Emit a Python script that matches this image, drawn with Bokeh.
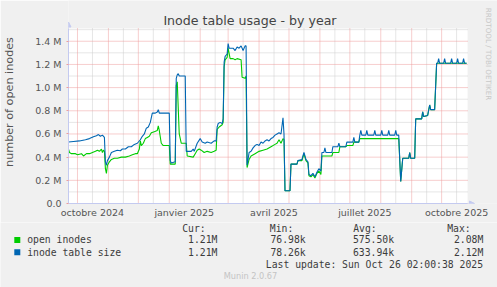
import math
import pandas as pd
from bokeh.plotting import figure
from bokeh.models import Range1d, FixedTicker, Label, Arrow, NormalHead
from bokeh.layouts import column
from bokeh.core.properties import value
from bokeh.embed import file_html
from bokeh.resources import INLINE

# ---------------- data ----------------
period_start = "2024-09-22"
period_end = "2025-10-27"

open_dates = [
    "2024-09-22", "2024-09-23", "2024-09-25", "2024-09-29", "2024-10-01", "2024-10-05", "2024-10-07",
    "2024-10-10", "2024-10-13", "2024-10-16", "2024-10-19", "2024-10-21", "2024-10-23", "2024-10-25",
    "2024-10-26", "2024-10-27", "2024-10-28", "2024-10-29", "2024-10-30", "2024-10-31", "2024-11-02",
    "2024-11-04", "2024-11-07", "2024-11-10", "2024-11-14", "2024-11-18", "2024-11-22", "2024-11-25",
    "2024-11-28", "2024-11-30", "2024-12-02", "2024-12-03", "2024-12-04", "2024-12-06", "2024-12-08",
    "2024-12-10", "2024-12-12", "2024-12-14", "2024-12-17", "2024-12-20", "2024-12-21", "2024-12-22",
    "2024-12-24", "2024-12-26", "2025-01-01", "2025-01-02", "2025-01-07", "2025-01-08", "2025-01-09",
    "2025-01-11", "2025-01-13", "2025-01-18", "2025-01-19", "2025-01-25", "2025-01-27", "2025-01-29",
    "2025-01-31", "2025-02-02", "2025-02-05", "2025-02-08", "2025-02-12", "2025-02-15", "2025-02-17",
    "2025-02-18", "2025-02-20", "2025-02-23", "2025-02-24", "2025-02-25", "2025-02-26", "2025-02-28",
    "2025-03-01", "2025-03-03", "2025-03-06", "2025-03-08", "2025-03-10", "2025-03-14", "2025-03-15",
    "2025-03-18", "2025-03-19", "2025-03-20", "2025-03-22", "2025-03-24", "2025-03-28", "2025-04-01",
    "2025-04-05", "2025-04-09", "2025-04-13", "2025-04-17", "2025-04-19", "2025-04-21", "2025-04-23",
    "2025-04-25", "2025-04-26", "2025-04-27", "2025-05-02", "2025-05-03", "2025-05-09", "2025-05-10",
    "2025-05-14", "2025-05-16", "2025-05-18", "2025-05-20", "2025-05-21", "2025-05-23", "2025-05-25",
    "2025-05-27", "2025-05-29", "2025-05-31", "2025-06-02", "2025-06-03", "2025-06-13", "2025-06-14",
    "2025-06-20", "2025-06-21", "2025-06-27", "2025-06-28", "2025-07-04", "2025-07-05", "2025-07-10",
    "2025-07-11", "2025-08-19", "2025-08-21", "2025-08-23", "2025-08-29", "2025-08-30", "2025-08-31",
    "2025-09-04", "2025-09-05", "2025-09-11", "2025-09-12", "2025-09-13", "2025-09-17", "2025-09-19",
    "2025-09-20", "2025-09-24", "2025-09-26", "2025-10-26",
]
open_values = [  # millions
    0.47, 0.44, 0.43, 0.43, 0.42, 0.43, 0.41,
    0.43, 0.43, 0.44, 0.45, 0.46, 0.45, 0.47,
    0.44, 0.46, 0.45, 0.30, 0.26, 0.33, 0.36,
    0.38, 0.39, 0.39, 0.40, 0.40, 0.41, 0.42,
    0.43, 0.43, 0.47, 0.54, 0.50, 0.52, 0.56,
    0.57, 0.58, 0.61, 0.62, 0.63, 0.67, 0.63,
    0.52, 0.50, 0.50, 0.34, 0.34, 1.02, 1.05,
    0.60, 0.52, 0.52, 0.41, 0.40, 0.43, 0.46,
    0.47, 0.46, 0.44, 0.45, 0.44, 0.45, 0.46,
    0.64, 0.66, 0.68, 0.70, 1.18, 1.24, 1.26,
    1.34, 1.25, 1.25, 1.24, 1.25, 1.24, 1.09,
    1.08, 1.10, 0.31, 0.38, 0.41, 0.43, 0.45,
    0.46, 0.47, 0.49, 0.51, 0.52, 0.55, 0.52,
    0.56, 0.55, 0.11, 0.11, 0.34, 0.34, 0.37,
    0.37, 0.43, 0.37, 0.35, 0.24, 0.23, 0.25,
    0.22, 0.26, 0.28, 0.25, 0.41, 0.41, 0.44,
    0.44, 0.49, 0.49, 0.50, 0.50, 0.53, 0.53,
    0.56, 0.56, 0.19, 0.39, 0.39, 0.44, 0.39,
    0.39, 0.73, 0.73, 0.79, 0.75, 0.76, 0.85,
    0.81, 0.81, 1.21, 1.21,
]

size_dates = [
    "2024-09-22", "2024-09-27", "2024-10-03", "2024-10-09", "2024-10-13", "2024-10-17", "2024-10-20",
    "2024-10-22", "2024-10-24", "2024-10-26", "2024-10-28", "2024-10-29", "2024-10-30", "2024-10-31",
    "2024-11-02", "2024-11-04", "2024-11-07", "2024-11-10", "2024-11-13", "2024-11-15", "2024-11-18",
    "2024-11-21", "2024-11-24", "2024-11-27", "2024-11-30", "2024-12-03", "2024-12-05", "2024-12-07",
    "2024-12-09", "2024-12-11", "2024-12-13", "2024-12-15", "2024-12-18", "2024-12-20", "2024-12-21",
    "2024-12-22", "2025-01-01", "2025-01-02", "2025-01-03", "2025-01-07", "2025-01-08", "2025-01-09",
    "2025-01-10", "2025-01-11", "2025-01-17", "2025-01-18", "2025-01-23", "2025-01-25", "2025-01-26",
    "2025-01-29", "2025-02-01", "2025-02-03", "2025-02-06", "2025-02-08", "2025-02-12", "2025-02-15",
    "2025-02-17", "2025-02-18", "2025-02-19", "2025-02-21", "2025-02-23", "2025-02-24", "2025-02-25",
    "2025-02-26", "2025-02-28", "2025-03-01", "2025-03-02", "2025-03-06", "2025-03-08", "2025-03-10",
    "2025-03-12", "2025-03-14", "2025-03-16", "2025-03-18", "2025-03-19", "2025-03-20", "2025-03-21",
    "2025-03-22", "2025-03-24", "2025-03-26", "2025-03-28", "2025-03-30", "2025-04-01", "2025-04-03",
    "2025-04-05", "2025-04-07", "2025-04-09", "2025-04-11", "2025-04-13", "2025-04-15", "2025-04-17",
    "2025-04-19", "2025-04-21", "2025-04-23", "2025-04-25", "2025-04-26", "2025-04-27", "2025-05-02",
    "2025-05-03", "2025-05-09", "2025-05-10", "2025-05-14", "2025-05-16", "2025-05-18", "2025-05-20",
    "2025-05-21", "2025-05-23", "2025-05-25", "2025-05-27", "2025-05-29", "2025-05-31", "2025-06-02",
    "2025-06-03", "2025-06-05", "2025-06-06", "2025-06-07", "2025-06-13", "2025-06-14", "2025-06-19",
    "2025-06-20", "2025-06-21", "2025-06-27", "2025-06-28", "2025-07-04", "2025-07-05", "2025-07-06",
    "2025-07-10", "2025-07-11", "2025-07-12", "2025-07-13", "2025-07-17", "2025-07-18", "2025-07-19",
    "2025-07-25", "2025-07-26", "2025-07-27", "2025-08-01", "2025-08-02", "2025-08-03", "2025-08-08",
    "2025-08-09", "2025-08-10", "2025-08-15", "2025-08-16", "2025-08-17", "2025-08-19", "2025-08-21",
    "2025-08-23", "2025-08-29", "2025-08-30", "2025-08-31", "2025-09-04", "2025-09-05", "2025-09-11",
    "2025-09-12", "2025-09-13", "2025-09-17", "2025-09-19", "2025-09-20", "2025-09-24", "2025-09-26",
    "2025-09-27", "2025-09-28", "2025-09-29", "2025-10-03", "2025-10-04", "2025-10-05", "2025-10-10",
    "2025-10-11", "2025-10-12", "2025-10-16", "2025-10-17", "2025-10-18", "2025-10-22", "2025-10-23",
    "2025-10-24", "2025-10-26",
]
size_values = [  # millions
    0.53, 0.535, 0.54, 0.55, 0.56, 0.575, 0.585,
    0.595, 0.58, 0.59, 0.57, 0.36, 0.33, 0.37,
    0.40, 0.44, 0.45, 0.46, 0.455, 0.47, 0.47,
    0.49, 0.49, 0.51, 0.52, 0.55, 0.58, 0.60,
    0.65, 0.66, 0.70, 0.78, 0.78, 0.79, 0.81,
    0.78, 0.78, 0.37, 0.35, 0.36, 1.08, 1.11,
    1.12, 1.10, 1.10, 0.45, 0.45, 0.47, 0.45,
    0.52, 0.56, 0.53, 0.52, 0.53, 0.52, 0.54,
    0.54, 0.66, 0.69, 0.70, 0.69, 0.73, 1.22,
    1.27, 1.29, 1.38, 1.34, 1.34, 1.32, 1.35,
    1.34, 1.36, 1.32, 1.36, 1.36, 0.33, 0.38,
    0.44, 0.45, 0.48, 0.50, 0.51, 0.50, 0.53,
    0.52, 0.54, 0.55, 0.54, 0.56, 0.57, 0.59,
    0.60, 0.61, 0.60, 0.74, 0.60, 0.11, 0.11,
    0.34, 0.34, 0.37, 0.38, 0.44, 0.38, 0.36,
    0.25, 0.24, 0.26, 0.23, 0.27, 0.30, 0.28,
    0.44, 0.44, 0.48, 0.44, 0.44, 0.49, 0.49,
    0.52, 0.49, 0.49, 0.53, 0.53, 0.57, 0.53,
    0.53, 0.59, 0.63, 0.59, 0.59, 0.63, 0.59,
    0.59, 0.63, 0.59, 0.59, 0.63, 0.59, 0.59,
    0.63, 0.59, 0.59, 0.63, 0.59, 0.59, 0.19,
    0.39, 0.39, 0.44, 0.39, 0.39, 0.73, 0.73,
    0.79, 0.75, 0.76, 0.85, 0.81, 0.81, 1.21,
    1.21, 1.25, 1.21, 1.21, 1.25, 1.21, 1.21,
    1.25, 1.21, 1.21, 1.25, 1.21, 1.21, 1.25,
    1.21, 1.21,
]

y_top = 1.51  # top of the graph area, millions
y_ticks = [0.0, 0.2, 0.4, 0.6, 0.8, 1.0, 1.2, 1.4]
y_tick_labels = ["0.0", "0.2 M", "0.4 M", "0.6 M", "0.8 M", "1.0 M", "1.2 M", "1.4 M"]
y_minor = [0.1, 0.3, 0.5, 0.7, 0.9, 1.1, 1.3, 1.5]
x_label_dates = ["2024-10-16", "2025-01-16", "2025-04-16", "2025-07-16", "2025-10-16"]
x_labels = ["octobre 2024", "janvier 2025", "avril 2025", "juillet 2025", "octobre 2025"]

series_names = ["open inodes", "inode table size"]
series_colors = ["#00CC00", "#0066B3"]
cur_vals = ["1.21M", "1.21M"]
min_vals = ["76.98k", "78.26k"]
avg_vals = ["575.50k", "633.94k"]
max_vals = ["2.08M", "2.12M"]
last_update = "Last update: Sun Oct 26 02:00:38 2025"
munin_version = "Munin 2.0.67"

# ---------------- helpers ----------------
t0 = pd.Timestamp(period_start)


def to_days(dates):
    return [float((pd.Timestamp(d) - t0) / pd.Timedelta(days=1)) for d in dates]


span_days = to_days([period_end])[0]
months = pd.date_range(period_start, period_end, freq="MS")
month_starts = [d for d in to_days(months) if 0 < d < span_days]
mid_months = [d for d in to_days(months + pd.Timedelta(days=15)) if 0 < d < span_days]
x_ticks = to_days(x_label_dates)

BG = "#F0F0F0"
AXIS_C = "#C4CAF0"
MGRID = "#EE9C9C"
NGRID = "#CDCDCD"
TICK_C = "#555555"
FONT = "DejaVu Sans"

# geometry: graph area 400x175 px at (67, 28); frame extends to the right and top
TOP_H = 222
FRAME_L, FRAME_B, FRAME_R, FRAME_T = 67, 203, 497, 0
GRAPH_W, GRAPH_H = 400, 175
x_per_px = span_days / GRAPH_W
y_per_px = y_top / GRAPH_H


def px_x(px):
    return (px - FRAME_L) * x_per_px


def px_y(py):
    return (FRAME_B - py) * y_per_px


p = figure(width=497, height=TOP_H, output_backend="svg", toolbar_location=None,
           x_range=Range1d(0, px_x(FRAME_R)), y_range=Range1d(0, px_y(FRAME_T)),
           min_border_left=FRAME_L, min_border_right=0, min_border_top=0,
           min_border_bottom=TOP_H - FRAME_B)
p.frame_align = False
p.border_fill_color = BG
p.background_fill_color = BG
p.outline_line_color = None
p.grid.visible = False

# white graph area
p.quad(left=[0], right=[span_days], bottom=[0], top=[y_top], fill_color="white",
       line_color=None, level="image")

# grid lines (minor grey, major red, dotted)
p.segment(x0=[0] * len(y_minor), x1=[span_days] * len(y_minor), y0=y_minor, y1=y_minor,
          line_color=NGRID, line_dash="1 1", line_width=1, level="underlay")
p.segment(x0=mid_months, x1=mid_months, y0=[0] * len(mid_months), y1=[y_top] * len(mid_months),
          line_color=NGRID, line_dash="1 1", line_width=1, level="underlay")
p.segment(x0=[0] * len(y_ticks), x1=[span_days] * len(y_ticks), y0=y_ticks, y1=y_ticks,
          line_color=MGRID, line_dash="1 1", line_width=1, level="underlay")
p.segment(x0=month_starts, x1=month_starts, y0=[0] * len(month_starts),
          y1=[y_top] * len(month_starts),
          line_color=MGRID, line_dash="1 1", line_width=1, level="underlay")

# data
p.line(to_days(open_dates), open_values, line_color=series_colors[0], line_width=1.1)
p.line(to_days(size_dates), size_values, line_color=series_colors[1], line_width=1.1)

# axes
p.xaxis.bounds = (0, span_days)
p.yaxis.bounds = (0, y_top)
p.xaxis.ticker = FixedTicker(ticks=x_ticks)
p.xaxis.major_label_overrides = {t: l for t, l in zip(x_ticks, x_labels)}
p.xaxis.major_tick_line_color = None
p.xaxis.minor_tick_line_color = None
p.xaxis.major_tick_out = 0
p.xaxis.major_label_standoff = 3
p.yaxis.ticker = FixedTicker(ticks=y_ticks)
p.yaxis.major_label_overrides = {t: l for t, l in zip(y_ticks, y_tick_labels)}
p.yaxis.major_tick_line_color = MGRID
p.yaxis.major_tick_out = 2
p.yaxis.major_tick_in = 0
p.yaxis.minor_tick_line_color = None
p.yaxis.major_label_standoff = 5
p.yaxis.axis_label = "number of open inodes"
p.yaxis.axis_label_text_font = FONT
p.yaxis.axis_label_text_font_size = "11.2px"
p.yaxis.axis_label_text_font_style = "normal"
p.yaxis.axis_label_text_color = TICK_C
p.yaxis.axis_label_standoff = 16
for ax in (p.xaxis[0], p.yaxis[0]):
    ax.axis_line_color = AXIS_C
    ax.major_label_text_font = FONT
    ax.major_label_text_font_size = "9.5px"
    ax.major_label_text_color = TICK_C

# title and side text (inside the extended frame)
p.add_layout(Label(x=px_x(248.9), y=px_y(19.8), text="Inode table usage - by year",
                   text_align="center", text_baseline="middle", text_font=FONT,
                   text_font_size="12.6px", text_color="#444444"))
p.add_layout(Label(x=px_x(488), y=px_y(53.5), text="RRDTOOL / TOBI OETIKER",
                   angle=-math.pi / 2, text_align="center", text_baseline="middle",
                   text_font=FONT, text_font_size="7.2px", text_color="#C8C8C8"))

# axis arrows
p.add_layout(Arrow(x_start=0, y_start=y_top, x_end=0, y_end=px_y(21.5),
                   line_color=AXIS_C, line_width=1,
                   end=NormalHead(size=5, fill_color=AXIS_C, line_color=AXIS_C)))
p.add_layout(Arrow(x_start=span_days, y_start=0, x_end=px_x(474), y_end=0,
                   line_color=AXIS_C, line_width=1,
                   end=NormalHead(size=5, fill_color=AXIS_C, line_color=AXIS_C)))

# ---------------- legend panel ----------------
BOT_H = 287 - TOP_H
q = figure(width=497, height=BOT_H, output_backend="svg", toolbar_location=None,
           x_range=Range1d(0, 497), y_range=Range1d(287, TOP_H),
           x_axis_type=None, y_axis_type=None, min_border=0,
           min_border_left=0, min_border_right=0, min_border_top=0, min_border_bottom=0)
q.frame_align = False
q.border_fill_color = BG
q.background_fill_color = BG
q.outline_line_color = None
q.grid.visible = False

MONO = value("DejaVu Sans Mono")
TXT = "#3C3C3C"
FS = "9.75px"
row_y = [239.3, 251.6]

q.text(x=[181.7, 269.3, 352.7, 446.7], y=[227.7] * 4, text=["Cur:", "Min:", "Avg:", "Max:"],
       text_font=MONO, text_font_size=FS, text_color=TXT, text_baseline="middle")
q.rect(x=[16.8, 16.8], y=[ry + 0.2 for ry in row_y], width=6, height=6,
       fill_color=series_colors, line_color=None)
q.text(x=[26.7, 26.7], y=row_y, text=series_names, text_font=MONO, text_font_size=FS,
       text_color=TXT, text_baseline="middle")
for xr, vals in ((216.9, cur_vals), (305.2, min_vals), (393.5, avg_vals), (482.8, max_vals)):
    q.text(x=[xr, xr], y=row_y, text=vals, text_font=MONO, text_font_size=FS,
           text_color=TXT, text_baseline="middle", text_align="right")
q.text(x=[482.5], y=[263.8], text=[last_update], text_font=MONO, text_font_size=FS,
       text_color=TXT, text_baseline="middle", text_align="right")
q.text(x=[250], y=[275.8], text=[munin_version], text_font=value(FONT), text_font_size="8.2px",
       text_color="#C4C4C4", text_baseline="middle", text_align="center")

layout = column(p, q, spacing=0)
open("out.html", "w").write(file_html(layout, INLINE))
